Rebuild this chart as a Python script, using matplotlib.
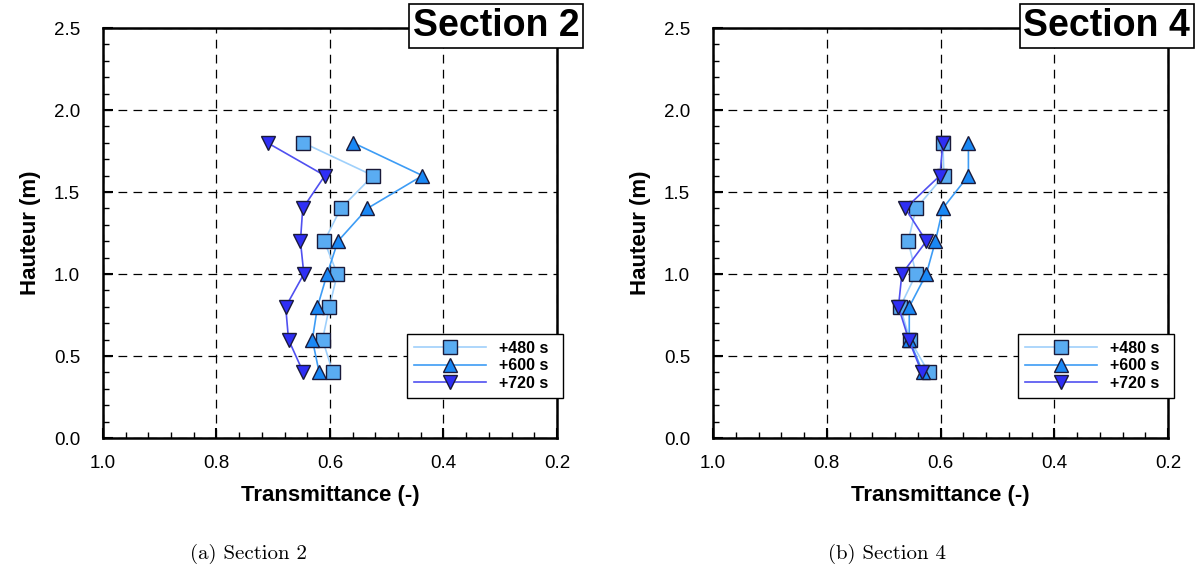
import matplotlib
matplotlib.use("Agg")
import matplotlib.pyplot as plt
from matplotlib.ticker import MultipleLocator

plt.rcParams['font.family'] = ['Liberation Sans', 'DejaVu Sans']

# heights (m)
hauteur = [1.8, 1.6, 1.4, 1.2, 1.0, 0.8, 0.6, 0.4]

# section 2 transmittance
s2_480 = [0.647, 0.524, 0.581, 0.610, 0.587, 0.601, 0.613, 0.595]
s2_600 = [0.559, 0.437, 0.534, 0.586, 0.605, 0.622, 0.631, 0.619]
s2_720 = [0.710, 0.609, 0.648, 0.652, 0.646, 0.678, 0.673, 0.647]

# section 4 transmittance
s4_480 = [0.596, 0.594, 0.643, 0.657, 0.643, 0.671, 0.654, 0.621]
s4_600 = [0.551, 0.551, 0.596, 0.609, 0.625, 0.655, 0.655, 0.631]
s4_720 = [0.596, 0.601, 0.662, 0.625, 0.668, 0.674, 0.656, 0.633]

labels = ['+480 s', '+600 s', '+720 s']
markers = ['s', '^', 'v']
line_cols = ['#9fd0fb', '#3d9cf5', '#5050f0']
fill_cols = ['#5aacf2', '#1a88f5', '#2f2ff5']

fig = plt.figure(figsize=(11.97, 5.74), dpi=100)
ax1 = fig.add_axes([0.086, 0.2369, 0.3793, 0.7143])
ax2 = fig.add_axes([0.5957, 0.2369, 0.3801, 0.7143])


def draw(ax, series, title, caption, cap_x):
    for vals, lab, m, lc, fc in zip(series, labels, markers, line_cols, fill_cols):
        ax.plot(vals, hauteur, color=lc, lw=1.2, marker=m, markersize=9.5,
                markerfacecolor=fc, markeredgecolor='#1a1a3a', markeredgewidth=1.0,
                label=lab, zorder=3)
    ax.set_xlim(1.0, 0.2)
    ax.set_ylim(0.0, 2.5)
    ax.xaxis.set_minor_locator(MultipleLocator(0.04))
    ax.yaxis.set_minor_locator(MultipleLocator(0.1))
    ax.set_xticks([1.0, 0.8, 0.6, 0.4, 0.2])
    ax.set_xticklabels(['1.0', '0.8', '0.6', '0.4', '0.2'])
    ax.set_yticks([0.0, 0.5, 1.0, 1.5, 2.0, 2.5])
    ax.set_yticklabels(['0.0', '0.5', '1.0', '1.5', '2.0', '2.5'])
    ax.tick_params(which='major', direction='in', length=7, width=1.5,
                   labelsize=13.5)
    ax.tick_params(axis='x', which='major', pad=12.5)
    ax.tick_params(axis='y', which='major', pad=16.5)
    ax.tick_params(which='minor', direction='in', length=4, width=1.0)
    for sp in ax.spines.values():
        sp.set_linewidth(1.8)
    ax.grid(True, which='major', color='black', lw=0.9, ls=(0, (7, 5)))
    ax.set_axisbelow(True)
    ax.set_xlabel('Transmittance (-)', fontsize=16, fontweight='bold', labelpad=9)
    ax.set_ylabel('Hauteur (m)', fontsize=16, fontweight='bold', labelpad=9)
    ax.text(1.049, 1.005, title, transform=ax.transAxes, ha='right', va='center',
            fontsize=27, fontweight='bold',
            bbox=dict(boxstyle='square,pad=0.1', fc='white', ec='black', lw=1.2),
            zorder=5, clip_on=False)
    leg = ax.legend(loc='lower left', bbox_to_anchor=(0.67, 0.098, 0.343, 0.18),
                    mode='expand', prop={'weight': 'bold', 'size': 11.5},
                    handlelength=4.5, fancybox=False, framealpha=1,
                    edgecolor='black', borderaxespad=0, labelspacing=0.15,
                    borderpad=0.45)
    leg.get_frame().set_linewidth(1.0)
    fig.text(cap_x, 0.035, caption, ha='center', va='center', fontsize=15,
             family=['cmr10', 'DejaVu Serif'])


draw(ax1, [s2_480, s2_600, s2_720], 'Section 2', '(a) Section 2', 248 / 1197)
draw(ax2, [s4_480, s4_600, s4_720], 'Section 4', '(b) Section 4', 887 / 1197)

fig.savefig('out.png', dpi=100)
